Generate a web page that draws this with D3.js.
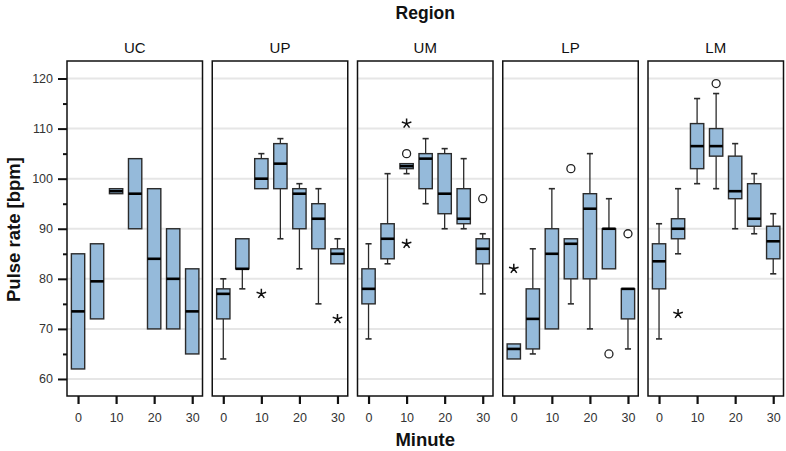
<!DOCTYPE html>
<html>
<head>
<meta charset="utf-8">
<script src="https://cdn.jsdelivr.net/npm/d3@7"></script>
<style>
  body { margin: 0; background: #fff; }
  svg { display: block; font-family: "Liberation Sans", Arial, sans-serif; }
</style>
</head>
<body>
<svg id="chart" width="786" height="451"></svg>
<script>
// ---- Data ----
const regions = ["UC", "UP", "UM", "LP", "LM"];
const minutes = [0, 5, 10, 15, 20, 25, 30];
const xTicks = [0, 10, 20, 30];
const yTicks = [60, 70, 80, 90, 100, 110, 120];
const yMinorTicks = [65, 75, 85, 95, 105, 115];

// each entry: [whiskerLow, Q1, median, Q3, whiskerHigh]
const statsUC = [[62,62,73.5,85,85],[72,72,79.5,87,87],[97,97,97.5,98,98],[90,90,97,104,104],[70,70,84,98,98],[70,70,80,90,90],[65,65,73.5,82,82]];
const statsUP = [[64,72,77,78,80],[78,82,82,88,88],[98,98,100,104,105],[88,98,103,107,108],[82,90,97,98,99],[75,86,92,95,98],[83,83,85,86,88]];
const statsUM = [[68,75,78,82,87],[83,84,88,91,101],[101,102,102.5,103,103],[95,98,104,105,108],[90,93,97,105,106],[90,91,92,98,104],[77,83,86,88,89]];
const statsLP = [[64,64,66,67,67],[65,66,72,78,86],[70,70,85,90,98],[75,80,87,88,88],[70,80,94,97,105],[82,82,90,90,96],[66,72,78,78,78]];
const statsLM = [[68,78,83.5,87,91],[85,88,90,92,98],[99,102,106.5,111,116],[98,104.5,106.5,110,117],[90,96,97.5,104.5,107],[89,90.5,92,99,101],[81,84,87.5,90.5,93]];

// outliers: [minute, value, kind]  kind: "o" = outlier circle, "*" = extreme star
const outUC = [];
const outUP = [[10,77,"*"],[30,72,"*"]];
const outUM = [[10,105,"o"],[10,111,"*"],[10,87,"*"],[30,96,"o"]];
const outLP = [[0,82,"*"],[15,102,"o"],[25,65,"o"],[30,89,"o"]];
const outLM = [[5,73,"*"],[15,119,"o"]];

const statsByRegion = [statsUC, statsUP, statsUM, statsLP, statsLM];
const outByRegion = [outUC, outUP, outUM, outLP, outLM];

// ---- Layout ----
const svg = d3.select("#chart");
const panelLeft0 = 67, panelW = 135.5, panelStep = 145.25;
const plotTop = 61, plotBottom = 396;

const y = d3.scaleLinear().domain([56.6, 123.5]).range([plotBottom, plotTop]);
const x = d3.scaleLinear().domain([-2.9, 32.7]).range([0, panelW]);
const boxW = x(3.5) - x(0);
const capW = boxW * 0.46;

const fill = "#95bada";
const stroke = "#2b2b2b";

function starPath(r) {
  let p = "";
  for (let i = 0; i < 5; i++) {
    const a = -Math.PI / 2 + i * 2 * Math.PI / 5;
    p += `M0,0L${(r * Math.cos(a)).toFixed(2)},${(r * Math.sin(a)).toFixed(2)}`;
  }
  return p;
}

regions.forEach((reg, ri) => {
  const g = svg.append("g").attr("transform", `translate(${panelLeft0 + ri * panelStep},0)`);

  // gridlines
  g.selectAll("line.grid").data(yTicks).enter().append("line")
    .attr("x1", 0).attr("x2", panelW)
    .attr("y1", d => y(d)).attr("y2", d => y(d))
    .attr("stroke", "#e6e6e6").attr("stroke-width", 2);

  // strip label
  g.append("text").attr("x", panelW / 2).attr("y", 53)
    .attr("text-anchor", "middle").attr("font-size", 15).attr("fill", "#111")
    .text(reg);

  const stats = statsByRegion[ri];
  const bx = g.selectAll("g.box").data(stats).enter().append("g")
    .attr("transform", (d, i) => `translate(${x(minutes[i])},0)`);

  // whiskers
  bx.each(function(d) {
    const s = d3.select(this);
    if (d[0] < d[1]) {
      s.append("line").attr("x1", 0).attr("x2", 0).attr("y1", y(d[1])).attr("y2", y(d[0]))
        .attr("stroke", stroke).attr("stroke-width", 1.3);
      s.append("line").attr("x1", -capW / 2).attr("x2", capW / 2).attr("y1", y(d[0])).attr("y2", y(d[0]))
        .attr("stroke", stroke).attr("stroke-width", 1.6);
    }
    if (d[4] > d[3]) {
      s.append("line").attr("x1", 0).attr("x2", 0).attr("y1", y(d[3])).attr("y2", y(d[4]))
        .attr("stroke", stroke).attr("stroke-width", 1.3);
      s.append("line").attr("x1", -capW / 2).attr("x2", capW / 2).attr("y1", y(d[4])).attr("y2", y(d[4]))
        .attr("stroke", stroke).attr("stroke-width", 1.6);
    }
  });

  // boxes
  bx.append("rect")
    .attr("x", -boxW / 2).attr("width", boxW)
    .attr("y", d => y(d[3])).attr("height", d => y(d[1]) - y(d[3]))
    .attr("fill", fill).attr("stroke", stroke).attr("stroke-width", 1.4);

  // medians
  bx.append("line")
    .attr("x1", -boxW / 2).attr("x2", boxW / 2)
    .attr("y1", d => y(d[2])).attr("y2", d => y(d[2]))
    .attr("stroke", "#000").attr("stroke-width", 2.6);

  // outliers
  const outs = outByRegion[ri];
  outs.forEach(o => {
    if (o[2] === "o") {
      g.append("circle").attr("cx", x(o[0])).attr("cy", y(o[1])).attr("r", 4)
        .attr("fill", "none").attr("stroke", "#222").attr("stroke-width", 1.3);
    } else {
      g.append("path").attr("transform", `translate(${x(o[0])},${y(o[1])})`)
        .attr("d", starPath(5)).attr("fill", "none").attr("stroke", "#111").attr("stroke-width", 1.5);
    }
  });

  // panel border
  g.append("rect").attr("x", 0).attr("y", plotTop).attr("width", panelW).attr("height", plotBottom - plotTop)
    .attr("fill", "none").attr("stroke", "#111").attr("stroke-width", 1.5);

  // x axis
  const xa = g.append("g").attr("transform", `translate(0,${plotBottom})`)
    .call(d3.axisBottom(x).tickValues(xTicks).tickSize(8).tickPadding(9).tickFormat(d3.format("d")));
  xa.select(".domain").remove();
  xa.selectAll(".tick line").attr("stroke", "#111").attr("stroke-width", 2.2);
  xa.selectAll(".tick text").attr("font-size", 12.5).attr("fill", "#333").attr("font-family", "Liberation Sans, Arial, sans-serif");
});

// y axis
const ya = svg.append("g").attr("transform", `translate(${panelLeft0},0)`)
  .call(d3.axisLeft(y).tickValues(yTicks).tickSize(9).tickPadding(5).tickFormat(d3.format("d")));
ya.select(".domain").remove();
ya.selectAll(".tick line").attr("stroke", "#111").attr("stroke-width", 2);
ya.selectAll(".tick text").attr("font-size", 12.5).attr("fill", "#333").attr("font-family", "Liberation Sans, Arial, sans-serif");

const yaMinor = svg.append("g").attr("transform", `translate(${panelLeft0},0)`)
  .call(d3.axisLeft(y).tickValues(yMinorTicks).tickSize(4).tickFormat(""));
yaMinor.select(".domain").remove();
yaMinor.selectAll(".tick line").attr("stroke", "#111").attr("stroke-width", 2);

// titles
const plotCenter = panelLeft0 + (4 * panelStep + panelW) / 2;
svg.append("text").attr("x", plotCenter).attr("y", 19).attr("text-anchor", "middle")
  .attr("font-size", 17.5).attr("font-weight", "bold").attr("fill", "#111").text("Region");
svg.append("text").attr("x", plotCenter).attr("y", 446).attr("text-anchor", "middle")
  .attr("font-size", 18.5).attr("font-weight", "bold").attr("fill", "#111").text("Minute");
svg.append("text").attr("transform", `translate(20,${(plotTop + plotBottom) / 2 + 1}) rotate(-90)`)
  .attr("text-anchor", "middle").attr("font-size", 18.5).attr("font-weight", "bold").attr("fill", "#111")
  .text("Pulse rate [bpm]");
</script>
</body>
</html>
